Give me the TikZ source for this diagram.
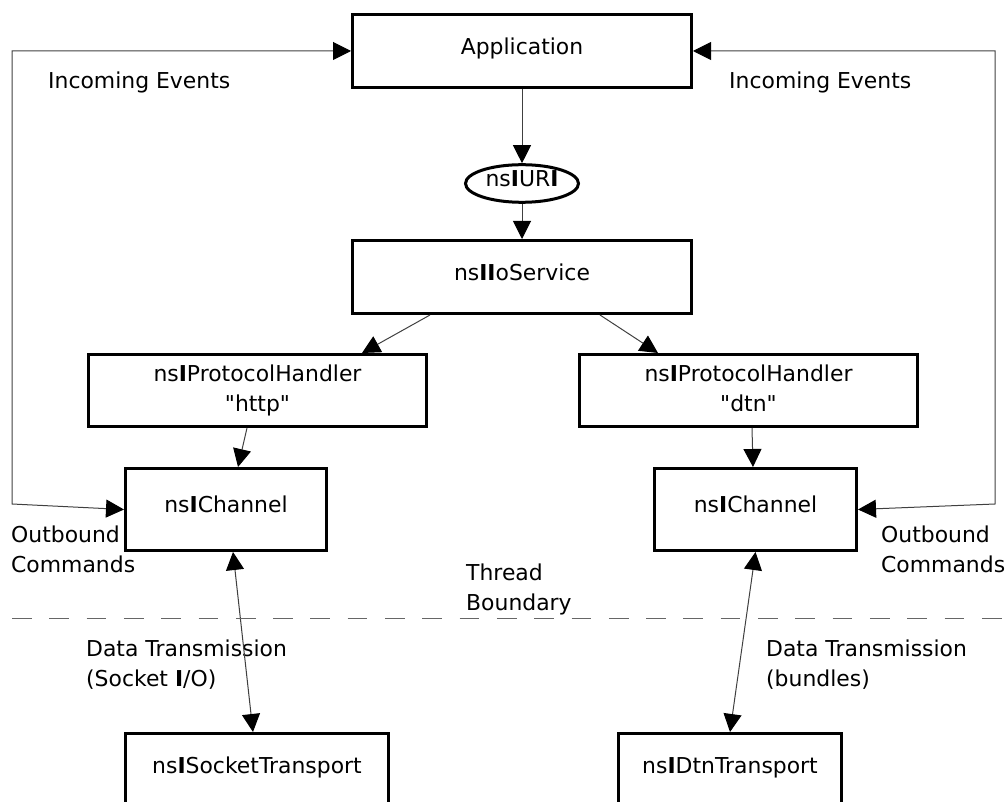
\documentclass[tikz,border=0pt]{standalone}
\usepackage{fontspec}
\setmainfont{DejaVu Sans}[Ligatures=TeXOff]
\usetikzlibrary{arrows.meta,shapes.geometric}
\newcommand{\bI}{\textbf{I}}
\begin{document}
\begin{tikzpicture}[x=1pt,y=-1pt,
  every node/.style={font=\fontsize{21.9}{30}\selectfont},
  box/.style={draw,line width=3pt,inner sep=0pt,text height=16.6pt,text depth=10pt},
  box2/.style={draw,line width=3pt,inner sep=0pt,align=center},
  lbl/.style={inner sep=0pt,align=left},
  conn/.style={draw=black!75,line width=1pt,-{Triangle[length=18pt,width=18pt,color=black]}},
  dconn/.style={draw=black!75,line width=1pt,{Triangle[length=18pt,width=18pt,color=black]}-{Triangle[length=18pt,width=18pt,color=black]}},
  boundary/.style={draw=black!60,line width=1pt,dash pattern=on 19.7pt off 17.6pt}
]
\useasboundingbox (0,0) rectangle (1007,802);
\clip (0,0) rectangle (1007,802);

% boxes
\node[box,minimum width=339pt,minimum height=73pt] (app) at (522,51) {Application};
\node[box,ellipse,minimum width=113pt,minimum height=34pt] (uri) at (522,183.5) {ns\bI UR\bI};
\node[box,minimum width=339pt,minimum height=73pt] (io) at (522,277) {ns\bI\bI oService};
\node[box2,minimum width=338pt,minimum height=72pt] (ph1) at (257.5,390.5) {ns\bI ProtocolHandler\\"http"};
\node[box2,minimum width=338pt,minimum height=72pt] (ph2) at (748.5,390.5) {ns\bI ProtocolHandler\\"dtn"\vphantom{p}};
\node[box,minimum width=201pt,minimum height=82pt] (ch1) at (226,509.5) {ns\bI Channel};
\node[box,minimum width=202pt,minimum height=82pt] (ch2) at (755.5,509.5) {ns\bI Channel};
\node[box,minimum width=263pt,minimum height=73pt] (st) at (257,770) {ns\bI SocketTransport};
\node[box,minimum width=223pt,minimum height=73pt] (dt) at (730,770) {ns\bI DtnTransport};

% labels
\node[lbl,anchor=base west] (ie1) at (48,89) {Incoming Events};
\node[lbl,anchor=base west] (ie2) at (729,89) {Incoming Events};
\node[lbl,anchor=north west] (oc1) at (11,525.9) {Outbound\\Commands};
\node[lbl,anchor=north west] (oc2) at (881,525.9) {Outbound\\Commands};
\node[lbl,anchor=north west] (tb) at (466,563.4) {Thread\\Boundary};
\node[lbl,anchor=north west] (dt1) at (86,640.1) {Data Transmission\\(Socket \bI/O)};
\node[lbl,anchor=north west] (dt2) at (766,640.1) {Data Transmission\\(bundles)};

% connectors
\draw[conn] (app.south) -- (uri.north);
\draw[conn] (uri.south) -- (io.north);
\draw[conn] ([xshift=-92pt]io.south) -- ([xshift=104.5pt]ph1.north);
\draw[conn] ([xshift=78pt]io.south) -- ([xshift=-90.5pt]ph2.north);
\draw[conn] ([xshift=-10.5pt]ph1.south) -- ([xshift=12pt]ch1.north);
\draw[conn] ([xshift=3.5pt]ph2.south) -- ([xshift=-2.5pt]ch2.north);
\draw[dconn] ([xshift=7pt]ch1.south) -- ([xshift=-4pt]st.north);
\draw[dconn] (ch2.south) -- (dt.north);

% feedback loops
\coordinate (lb) at (12,504);
\coordinate (lt) at (12,51);
\coordinate (rb) at (995,504);
\coordinate (rt) at (995,51);
\draw[dconn] (ch1.west) -- (lb) -- (lt) -- (app.west);
\draw[dconn] (ch2.east) -- (rb) -- (rt) -- (app.east);

% thread boundary
\coordinate (bl) at (12,618);
\coordinate (br) at (1007,618);
\draw[boundary] (bl) -- (br);
\end{tikzpicture}
\end{document}
